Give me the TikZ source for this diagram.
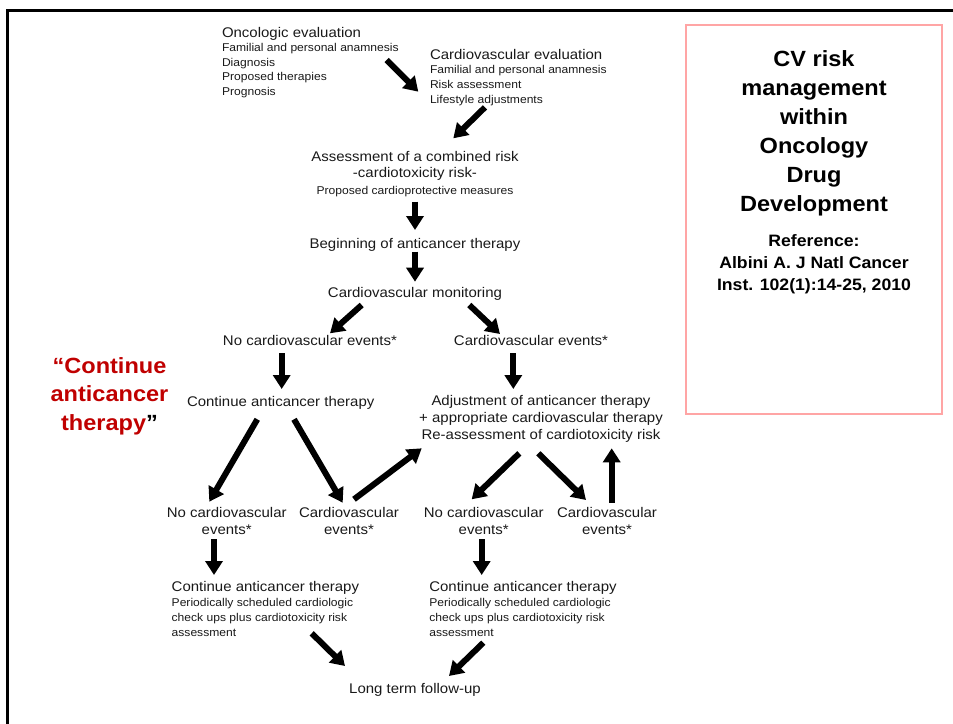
\documentclass[tikz,border=0pt]{standalone}
\usepackage{fontspec}
\setmainfont{Liberation Sans}[FakeStretch=1.07]
\usetikzlibrary{arrows.meta}
\definecolor{darkred}{RGB}{192,0,0}
\definecolor{pinkline}{RGB}{255,165,165}
\definecolor{inktext}{RGB}{25,25,25}
\begin{document}
\begin{tikzpicture}[x=1pt,y=-1pt,
  txt/.style={inner sep=0pt, outer sep=0pt, text=inktext},
  main/.style={font=\fontsize{14}{16.5}\selectfont},
  fat/.style={line width=6pt, -{Triangle[length=14pt,width=17pt]}, black},
]
\useasboundingbox (0,0) rectangle (953,723);
% frame
\draw[line width=3pt] (7,724) -- (7,10) -- (954,10);
% title box
\draw[pinkline, line width=1.5pt] (686,25) rectangle (942,414);
\node[txt, anchor=base, align=center, text=black, font=\bfseries\fontsize{22}{29}\selectfont] (title) at (814,211.7) {CV risk\\management\\within\\Oncology\\Drug\\Development};
\node[txt, anchor=base, align=center, text=black, font=\bfseries\fontsize{16.5}{21.7}\selectfont] (ref) at (814,290) {Reference:\\Albini A. J Natl Cancer\\Inst. 102(1):14-25, 2010};
% red note
\node[txt, anchor=base, align=center, text=darkred, font=\bfseries\fontsize{22}{28.5}\selectfont] (note) at (109.5,430.3) {“Continue\\anticancer\\therapy\textcolor{black}{”}};
% flow nodes
\node[txt, anchor=base west, align=left, font=\fontsize{11.3}{14.5}\selectfont] (onc) at (222,95) {{\fontsize{14}{14.5}\selectfont Oncologic evaluation}\\Familial and personal anamnesis\\Diagnosis\\Proposed therapies\\Prognosis};
\node[txt, anchor=base west, align=left, font=\fontsize{11.3}{14.7}\selectfont] (cve) at (430,103.3) {{\fontsize{14}{14.7}\selectfont Cardiovascular evaluation}\\Familial and personal anamnesis\\Risk assessment\\Lifestyle adjustments};
\node[txt, anchor=base, align=center, font=\fontsize{14}{16.3}\selectfont] (comb) at (415,194) {Assessment of a combined risk\\-cardiotoxicity risk-\\{\fontsize{11.3}{16.3}\selectfont Proposed cardioprotective measures}};
\node[txt, main, anchor=base] (begin) at (415,248) {Beginning of anticancer therapy};
\node[txt, main, anchor=base] (mon) at (415,297.3) {Cardiovascular monitoring};
\node[txt, main, anchor=base] (nocv) at (310,345.7) {No cardiovascular events*};
\node[txt, main, anchor=base] (cv) at (531,345.7) {Cardiovascular events*};
\node[txt, main, anchor=base] (cont) at (280.7,406) {Continue anticancer therapy};
\node[txt, anchor=base, align=center, font=\fontsize{14}{16.7}\selectfont] (adj) at (541,439.3) {Adjustment of anticancer therapy\\+ appropriate cardiovascular therapy\\Re-assessment of cardiotoxicity risk};
\node[txt, anchor=base, align=center, font=\fontsize{14}{16.7}\selectfont] (nocvA) at (226.7,534) {No cardiovascular\\events*};
\node[txt, anchor=base, align=center, font=\fontsize{14}{16.7}\selectfont] (cvA) at (349,534) {Cardiovascular\\events*};
\node[txt, anchor=base, align=center, font=\fontsize{14}{16.7}\selectfont] (nocvB) at (483.7,534) {No cardiovascular\\events*};
\node[txt, anchor=base, align=center, font=\fontsize{14}{16.7}\selectfont] (cvB) at (607,534) {Cardiovascular\\events*};
\node[txt, anchor=base west, align=left, font=\fontsize{11.3}{14.8}\selectfont] (contA) at (171.7,636) {{\fontsize{14}{14.8}\selectfont Continue anticancer therapy}\\Periodically scheduled cardiologic\\check ups plus cardiotoxicity risk\\assessment};
\node[txt, anchor=base west, align=left, font=\fontsize{11.3}{14.8}\selectfont] (contB) at (429.3,636) {{\fontsize{14}{14.8}\selectfont Continue anticancer therapy}\\Periodically scheduled cardiologic\\check ups plus cardiotoxicity risk\\assessment};
\node[txt, main, anchor=base] (ltf) at (415,693.3) {Long term follow-up};
% arrow end points
\coordinate (a1s) at (386.7,60);   \coordinate (a1e) at (418.3,91.7);
\coordinate (a2s) at (485,107.3);  \coordinate (a2e) at (453.3,138.3);
\coordinate (a3s) at (415,201.7);  \coordinate (a3e) at (415,230);
\coordinate (a4s) at (415,251.7);  \coordinate (a4e) at (415,281.7);
\coordinate (a5s) at (361.7,305);  \coordinate (a5e) at (330,333.3);
\coordinate (a6s) at (469.3,305);  \coordinate (a6e) at (500,334);
\coordinate (a7s) at (281.7,353.3); \coordinate (a7e) at (281.7,389);
\coordinate (a8s) at (513.3,353.3); \coordinate (a8e) at (513.3,389);
\coordinate (a9s) at (257.3,419.3); \coordinate (a9e) at (209.3,501.7);
\coordinate (a10s) at (294,419.3);  \coordinate (a10e) at (342.7,502.7);
\coordinate (a11s) at (354,499.3);  \coordinate (a11e) at (421.7,448.3);
\coordinate (a12s) at (519.3,453.3); \coordinate (a12e) at (471.7,499.3);
\coordinate (a13s) at (538.3,453.3); \coordinate (a13e) at (586,500);
\coordinate (a14s) at (611.7,502.7); \coordinate (a14e) at (611.7,448.3);
\coordinate (a15s) at (214,539.3);  \coordinate (a15e) at (214,575);
\coordinate (a16s) at (481.7,539.3); \coordinate (a16e) at (481.7,575);
\coordinate (a17s) at (311.7,633.3); \coordinate (a17e) at (345,666);
\coordinate (a18s) at (483.3,642.7); \coordinate (a18e) at (449,676);
\foreach \i in {1,...,18} {\draw[fat] (a\i s) -- (a\i e);}
\end{tikzpicture}
\end{document}
